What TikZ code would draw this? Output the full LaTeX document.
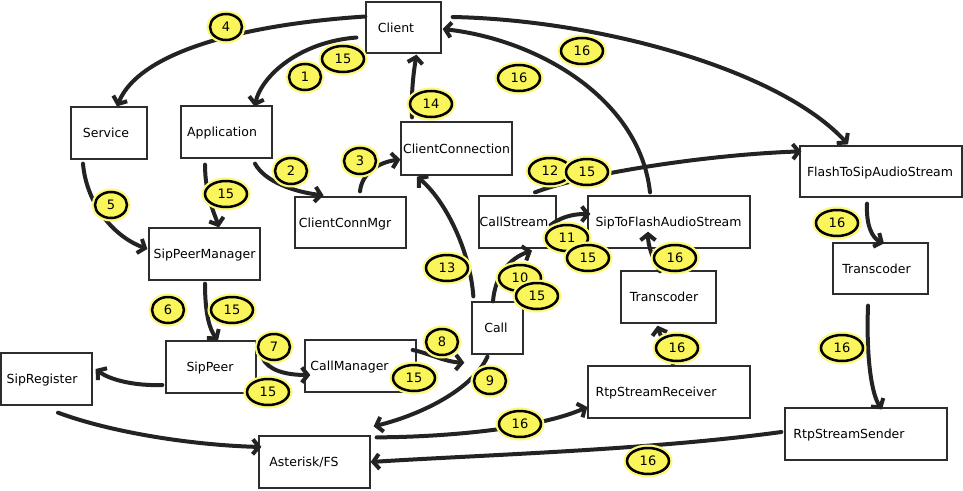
\documentclass[tikz,border=0pt]{standalone}
\usepackage{fontspec}
\setmainfont{DejaVu Sans}
\usetikzlibrary{arrows.meta,calc,shapes.geometric}
\definecolor{ink}{RGB}{35,35,35}
\definecolor{boxline}{RGB}{45,45,45}
\definecolor{labfill}{RGB}{250,245,90}
\definecolor{labhalo}{RGB}{252,249,125}
\begin{document}
\begin{tikzpicture}[x=1pt,y=-1pt,
  box/.style={draw=boxline, line width=1.3pt, fill=white, rectangle, inner sep=0pt,
    text height=9pt, text depth=0pt, font=\fontsize{12.5}{14}\selectfont},
  conn/.style={draw=ink, line width=4pt, line cap=round,
    -{Straight Barb[length=6pt,width=15pt]}},
  lab/.style={ellipse, draw=black, line width=2.5pt, fill=labfill, minimum width=32pt,
    minimum height=26pt, inner sep=0pt, font=\fontsize{13}{14}\selectfont,
    preaction={draw=labhalo, line width=7pt}},
  labw/.style={lab, minimum width=42pt}]
\useasboundingbox[fill=white] (0,0) rectangle (963,490);

% boxes
\node[box, minimum width=75pt, minimum height=51pt] (client) at (403.5,27.5) {Client\kern15pt};
\node[box, minimum width=76pt, minimum height=52pt] (service) at (109,133) {Service\kern6pt};
\node[box, minimum width=91pt, minimum height=52pt] (application) at (226.5,132) {Application\kern9pt};
\node[box, minimum width=111pt, minimum height=53pt] (clientconnection) at (456.5,148.5) {ClientConnection};
\node[box, minimum width=111pt, minimum height=51pt] (clientconnmgr) at (350.5,222.5) {ClientConnMgr\kern11pt};
\node[box, minimum width=111pt, minimum height=52pt] (sippeermanager) at (204.5,254) {SipPeerManager};
\node[box, minimum width=90pt, minimum height=52pt] (sippeer) at (211,367) {SipPeer\kern2pt};
\node[box, minimum width=91pt, minimum height=52pt] (sipregister) at (46.5,379) {SipRegister\kern9pt};
\node[box, minimum width=111pt, minimum height=52pt] (callmanager) at (360.5,366) {CallManager\kern22pt};
\node[box, minimum width=51pt, minimum height=52pt] (call) at (497.5,328) {Call\kern3pt};
\node[box, minimum width=77pt, minimum height=52pt] (callstream) at (517.5,222) {CallStream\kern7pt};
\node[box, minimum width=162pt, minimum height=52pt] (siptoflash) at (669,222) {SipToFlashAudioStream\kern1pt};
\node[box, minimum width=162pt, minimum height=51pt] (flashtosip) at (881,171.5) {FlashToSipAudioStream\kern2pt};
\node[box, minimum width=95pt, minimum height=52pt] (transcoderA) at (668.5,297) {Transcoder\kern9pt};
\node[box, minimum width=95pt, minimum height=51pt] (transcoderB) at (880.5,268.5) {Transcoder\kern8pt};
\node[box, minimum width=162pt, minimum height=52pt] (rtpreceiver) at (669,392) {RtpStreamReceiver\kern26pt};
\node[box, minimum width=162pt, minimum height=52pt] (rtpsender) at (866,434) {RtpStreamSender\kern34pt};
\node[box, minimum width=111pt, minimum height=52pt] (asterisk) at (314.5,462) {Asterisk/FS\kern21pt};

% connectors
\draw[conn] ($(client.west)+(0,-11)$) .. controls (250,24) and (140,50) .. ($(service.north)+(8,0)$);
\draw[conn] ($(client.west)+(-9,10)$) .. controls (300,42) and (262,75) .. ($(application.north)+(28,1)$);
\draw[conn] ($(application.south)+(28.5,5)$) .. controls (265,182) and (295,192) .. ($(clientconnmgr.north)+(-27,-1)$);
\draw[conn] ($(clientconnmgr.north)+(9.5,-5)$) .. controls (362,172) and (380,162) .. ($(clientconnection.west)+(0,11)$);
\draw[conn] ($(clientconnection.north)+(-44.5,-4)$) .. controls (411,90) and (414,70) .. ($(client.south)+(13,1)$);
\draw[conn] ($(service.south)+(-26,4)$) .. controls (86,200) and (110,235) .. ($(sippeermanager.west)+(-1,-5)$);
\draw[conn] ($(application.south)+(-21.5,6)$) .. controls (205,195) and (215,215) .. ($(sippeermanager.north)+(14.5,0)$);
\draw[conn] ($(sippeermanager.south)+(0.5,3)$) .. controls (205,315) and (210,330) .. ($(sippeer.north)+(7,0)$);
\draw[conn] ($(sippeer.west)+(-3,18)$) .. controls (135,386) and (110,380) .. ($(sipregister.east)+(3,-10)$);
\draw[conn] ($(sippeer.east)+(6,-9)$) .. controls (268,370) and (285,375) .. ($(callmanager.west)+(6,9)$);
\draw[conn] ($(sipregister.south)+(11.5,7)$) .. controls (110,432) and (190,445) .. ($(asterisk.west)+(3,-15)$);
\draw[conn] ($(callmanager.east)+(-4,-16)$) .. controls (425,352) and (445,362) .. ($(call.south west)+(-7,8)$);
\draw[conn] ($(call.south)+(-10,2)$) .. controls (472,390) and (420,415) .. ($(asterisk.north east)+(3,-9)$);
\draw[conn] ($(asterisk.north east)+(6,2)$) .. controls (450,437) and (540,428) .. ($(rtpreceiver.west)+(0,15)$);
\draw[conn] ($(rtpsender.west)+(-3,-2)$) .. controls (650,450) and (480,455) .. (asterisk.east);
\draw[conn] ($(call.north west)+(2,-5)$) .. controls (470,250) and (445,200) .. ($(clientconnection.south)+(-39.5,1)$);
\draw[conn] ($(call.north)+(-4.5,0)$) .. controls (495,275) and (510,258) .. ($(callstream.south)+(14.5,2)$);
\draw[conn] ($(callstream.east)+(-6,3)$) .. controls (565,214) and (580,214) .. ($(siptoflash.west)+(3,-8)$);
\draw[conn] ($(callstream.north)+(17.5,-3)$) .. controls (580,175) and (700,155) .. ($(flashtosip.north west)+(2,6)$);
\draw[conn] ($(siptoflash.north)+(-19,-3)$) .. controls (640,100) and (540,40) .. ($(client.east)+(1,1.5)$);
\draw[conn] ($(client.east)+(11,-10.5)$) .. controls (600,20) and (780,70) .. ($(flashtosip.north)+(-33,-1)$);
\draw[conn] ($(transcoderA.north)+(-8.5,1)$) .. controls (652,258) and (648,245) .. ($(siptoflash.south)+(-21,-17)$);
\draw[conn] ($(rtpreceiver.north)+(4,-1)$) .. controls (668,350) and (660,335) .. ($(transcoderA.south)+(-11,2)$);
\draw[conn] ($(flashtosip.south)+(-14,6)$) .. controls (866,225) and (872,238) .. ($(transcoderB.north)+(3.5,1)$);
\draw[conn] ($(transcoderB.south)+(-12.5,11)$) .. controls (866,360) and (872,395) .. ($(rtpsender.north)+(16,2)$);

% step labels
\node[lab] (l4) at (226,27) {4};
\node[lab] (l1) at (305,77) {1};
\node[labw] (l15a) at (343,59) {15};
\node[labw] (l14) at (431,104) {14};
\node[lab] (l2) at (291,171) {2};
\node[lab] (l3) at (360,161) {3};
\node[lab] (l5) at (111,205) {5};
\node[labw] (l15b) at (226,194) {15};
\node[lab] (l6) at (168,310) {6};
\node[labw] (l15c) at (232,310) {15};
\node[lab] (l7) at (274,347) {7};
\node[labw] (l15d) at (268,392) {15};
\node[lab] (l8) at (442,342) {8};
\node[labw] (l15e) at (414,378) {15};
\node[lab] (l9) at (490,381) {9};
\node[labw] (l13) at (447,268) {13};
\node[labw] (l10) at (520,278) {10};
\node[labw] (l15f) at (537,296) {15};
\node[labw] (l11) at (567,238) {11};
\node[labw] (l15g) at (588,258) {15};
\node[labw] (l12) at (550,171) {12};
\node[labw] (l15h) at (587,172) {15};
\node[labw] (l16a) at (675,258) {16};
\node[labw] (l16b) at (677,348) {16};
\node[labw] (l16c) at (519,78) {16};
\node[labw] (l16d) at (582,51) {16};
\node[labw] (l16e) at (837,223) {16};
\node[labw] (l16f) at (842,348) {16};
\node[labw] (l16g) at (520,424) {16};
\node[labw] (l16h) at (648,461) {16};
\end{tikzpicture}
\end{document}
